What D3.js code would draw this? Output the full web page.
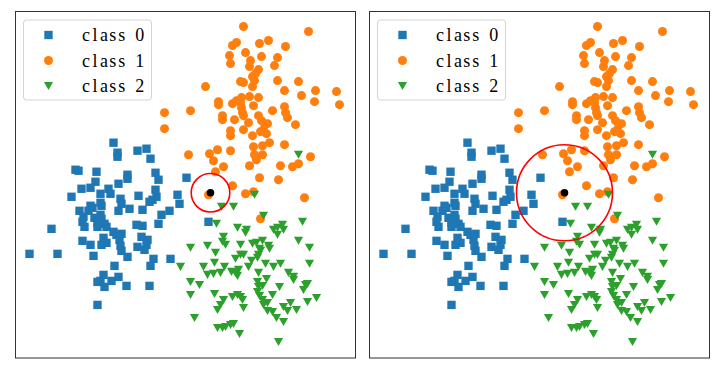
<!DOCTYPE html>
<html>
<head>
<meta charset="utf-8">
<script src="https://cdn.jsdelivr.net/npm/d3@7"></script>
<style>
    html, body { margin: 0; padding: 0; background: #fff; }
    svg { display: block; }
</style>
</head>
<body>
<svg id="chart" width="720" height="373"></svg>
<script>
// ===== DATA =====
// class 0 (blue squares)
const class0 = [
    [9.8,21.5],[10.2,20.5],[10.2,20.1],[12.2,20.7],[13.1,20.9],[13.5,19.9],[6.0,18.8],[6.3,18.7],
    [8.1,18.6],[11.2,18.3],[11.2,17.9],[14.0,18.5],[14.3,17.8],[17.1,18.0],[8.0,17.6],[10.3,17.4],
    [6.6,16.9],[7.5,17.0],[8.5,16.4],[9.3,16.9],[9.5,16.4],[5.6,16.1],[12.3,16.2],[14.0,16.8],
    [14.1,16.1],[16.2,16.3],[10.5,15.9],[10.6,15.4],[8.5,15.5],[8.6,15.2],[13.4,15.6],[13.7,15.8],
    [16.4,15.4],[7.5,15.2],[7.3,14.7],[7.7,15.0],[6.4,14.7],[10.3,14.7],[11.4,14.9],[12.7,14.8],
    [15.4,14.7],[14.6,14.3],[8.5,14.3],[8.6,13.9],[7.9,14.0],[8.2,13.5],[8.9,13.4],[9.1,13.1],
    [6.8,14.1],[6.7,13.6],[6.9,13.1],[3.6,12.9],[9.8,12.6],[12.1,13.3],[12.7,13.2],[14.3,13.4],
    [8.2,13.1],[10.6,12.4],[10.4,11.8],[8.8,12.0],[9.1,11.5],[8.6,11.3],[6.7,11.7],[7.5,11.3],
    [12.6,12.1],[13.2,11.8],[13.1,11.3],[12.2,11.1],[19.3,13.6],[1.4,10.4],[4.2,10.4],[7.8,10.2],
    [10.6,10.7],[11.2,10.1],[12.9,10.8],[13.8,9.9],[13.5,9.2],[15.5,9.9],[9.9,9.2],[10.3,8.1],
    [8.8,8.3],[8.5,7.7],[8.9,7.1],[9.6,7.7],[8.2,7.6],[11.1,7.2],[13.4,7.2],[8.2,5.3],
    [10.1,12.3],[10.5,11.2]
];

// class 1 (orange circles)
const class1 = [
    [22.8,33.1],[29.3,32.6],[21.7,31.2],[22.1,31.5],[24.4,31.4],[25.3,31.7],[27.0,31.1],[21.4,30.2],
    [23.0,30.5],[24.6,30.1],[26.2,30.0],[21.5,29.4],[23.5,29.7],[23.4,29.1],[25.9,29.2],[24.3,28.8],
    [24.0,28.4],[23.7,28.1],[23.9,27.7],[22.5,27.6],[22.8,27.5],[23.7,27.1],[26.2,27.7],[28.3,27.6],
    [19.0,27.1],[26.9,26.7],[30.0,26.7],[32.1,26.6],[28.6,26.2],[32.4,25.3],[29.9,25.6],[20.3,25.6],
    [20.3,25.3],[21.7,25.4],[22.1,25.7],[22.6,26.0],[23.4,26.1],[24.3,26.0],[22.5,25.5],[23.8,25.2],
    [22.6,25.0],[22.7,24.5],[25.7,24.7],[26.9,25.1],[27.0,24.5],[27.2,24.0],[14.9,24.5],[17.5,24.7],
    [20.7,24.2],[20.7,23.8],[21.9,23.8],[22.8,24.2],[24.3,24.2],[24.6,23.7],[24.9,23.4],[25.2,23.4],
    [23.3,23.5],[28.0,23.3],[14.9,22.9],[21.5,22.7],[22.8,22.8],[21.5,22.2],[23.7,22.2],[24.5,22.6],
    [25.1,22.4],[24.8,22.8],[17.3,20.3],[19.4,20.4],[20.2,20.8],[21.5,20.7],[19.8,19.7],[20.8,19.1],
    [23.8,21.1],[24.7,21.2],[25.4,21.5],[26.9,21.3],[23.9,20.3],[24.1,19.8],[24.7,20.3],[23.4,19.2],
    [29.5,20.1],[28.3,19.4],[27.7,19.1],[26.5,19.2],[26.3,17.8],[24.4,18.0],[20.0,18.6],[21.7,17.2],
    [23.0,16.4],[23.8,16.6],[28.9,16.0],[19.3,16.3],[24.5,13.9]
];

// class 2 (green triangles)
const class2 = [
    [28.3,20.3],[23.9,16.3],[20.6,15.1],[21.8,15.1],[24.8,14.2],[20.1,13.4],[22.2,13.0],[23.1,12.8],
    [23.0,12.5],[25.8,12.8],[26.2,13.0],[26.7,13.3],[26.8,12.8],[26.2,12.3],[28.7,13.6],[28.3,11.7],
    [20.8,12.1],[20.7,11.6],[21.0,11.3],[19.2,11.2],[17.5,11.0],[20.0,10.5],[22.5,11.3],[23.7,11.4],
    [24.1,11.5],[24.7,11.7],[24.4,10.9],[25.3,11.2],[25.4,10.9],[29.4,11.0],[16.5,9.1],[18.8,9.1],
    [19.2,8.3],[19.8,8.4],[19.9,9.5],[20.9,9.1],[20.5,8.5],[21.6,8.6],[22.0,8.5],[22.2,8.2],
    [22.3,8.8],[22.0,9.9],[22.5,10.3],[22.8,10.3],[23.3,9.1],[23.6,9.7],[24.3,10.3],[24.2,10.0],
    [24.5,10.7],[25.0,9.4],[25.8,9.1],[26.5,9.4],[24.3,8.5],[25.1,7.9],[27.3,8.5],[27.8,8.1],
    [29.4,9.4],[17.5,7.6],[18.4,7.3],[19.9,6.4],[20.8,5.8],[20.5,5.3],[20.2,4.8],[21.7,6.1],
    [22.2,6.3],[22.5,6.1],[22.7,5.8],[24.2,7.6],[24.3,7.1],[24.2,6.6],[24.4,6.2],[24.7,7.2],
    [25.7,6.3],[26.4,7.1],[24.7,5.8],[24.8,5.3],[25.2,4.7],[25.7,4.6],[26.8,5.1],[27.2,4.7],
    [27.5,5.5],[28.1,4.8],[29.0,7.3],[28.8,6.8],[29.2,7.4],[30.1,6.0],[29.2,5.6],[26.8,3.6],
    [26.1,4.0],[17.5,6.3],[17.9,4.0],[20.2,3.0],[20.7,3.0],[21.0,3.1],[21.5,3.3],[21.8,3.4],
    [22.4,2.4],[22.8,5.0],[27.8,7.8],[25.2,5.5],[26.3,1.6]
];

const classLabels = ['class 0', 'class 1', 'class 2'];
const classColors = ['#1f77b4', '#ff7f0e', '#2ca02c'];
const queryPoint  = [19.5, 16.5];
const radii       = [1.93, 4.8];   // neighbourhood radius, one per panel

// ===== LAYOUT =====
const PW = 340, PH = 346.5;
const panelX = [15.5, 369.5];
const panelY = 11.5;

const x = d3.scaleLinear().domain([0, 34]).range([0, PW]);
const y = d3.scaleLinear().domain([0, 34.6]).range([PH, 0]);

// matplotlib-style 'v' marker
const triangleDown = {
    draw(ctx, size) {
        const w = Math.sqrt(size) / 2;
        const h = w * 0.875;
        ctx.moveTo(-w, -h);
        ctx.lineTo(w, -h);
        ctx.lineTo(0, h);
        ctx.closePath();
    }
};
const symbols = [
    d3.symbol(d3.symbolSquare, 70),
    d3.symbol(d3.symbolCircle, Math.PI * 4.5 * 4.5),
    d3.symbol(triangleDown, 84)
];

const svg = d3.select('#chart');
const allClasses = [class0, class1, class2];

radii.forEach((r, i) => {
    const g = svg.append('g').attr('transform', `translate(${panelX[i]},${panelY})`);

    // Scatter points, one class at a time
    allClasses.forEach((pts, c) => {
        g.selectAll(null)
            .data(pts)
            .enter().append('path')
            .attr('d', symbols[c])
            .attr('transform', d => `translate(${x(d[0])},${y(d[1])})`)
            .attr('fill', classColors[c]);
    });

    // Query point and its neighbourhood
    g.append('circle')
        .attr('cx', x(queryPoint[0]))
        .attr('cy', y(queryPoint[1]))
        .attr('r', 3.8)
        .attr('fill', '#000');

    g.append('circle')
        .attr('cx', x(queryPoint[0]))
        .attr('cy', y(queryPoint[1]))
        .attr('r', x(r) - x(0))
        .attr('fill', 'none')
        .attr('stroke', 'red')
        .attr('stroke-width', 1.6);

    // Frame
    g.append('rect')
        .attr('width', PW)
        .attr('height', PH)
        .attr('fill', 'none')
        .attr('stroke', '#333')
        .attr('stroke-width', 1);

    // Legend
    const lg = g.append('g').attr('transform', 'translate(8,8.5)');
    lg.append('rect')
        .attr('width', 128)
        .attr('height', 80)
        .attr('rx', 3)
        .attr('fill', '#fff')
        .attr('fill-opacity', 0.8)
        .attr('stroke', '#d4d4d4')
        .attr('stroke-width', 1);

    classLabels.forEach((label, c) => {
        const ry = 15 + c * 25.5;
        lg.append('path')
            .attr('d', symbols[c])
            .attr('transform', `translate(25,${ry})`)
            .attr('fill', classColors[c]);

        // monospaced layout: one cell per character
        const cells = label.split('').map((ch, k) => 62.5 + k * 8.95);
        lg.append('text')
            .attr('x', cells.join(' '))
            .attr('y', ry)
            .attr('dy', '0.35em')
            .attr('text-anchor', 'middle')
            .style('font-family', '"Liberation Serif", "DejaVu Serif", serif')
            .style('font-size', '18px')
            .attr('fill', '#000')
            .text(label);
    });
});
</script>
</body>
</html>
